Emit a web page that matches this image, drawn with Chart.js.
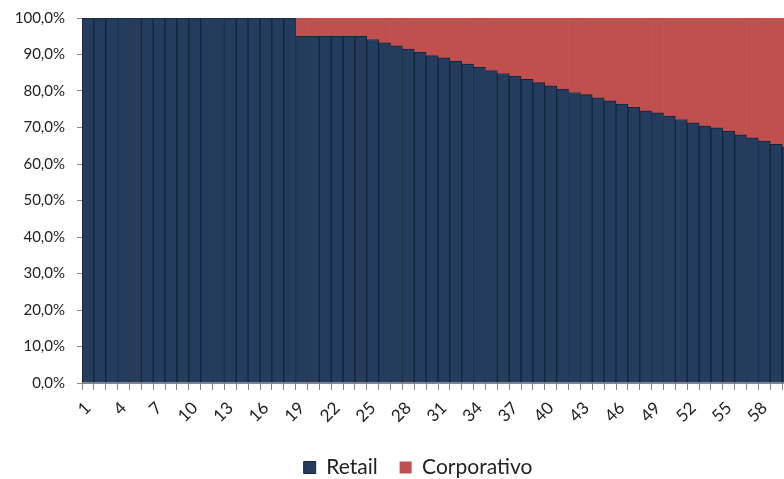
<!DOCTYPE html>
<html lang="pt">
<head>
    <meta charset="UTF-8">
    <title>Retail x Corporativo</title>
    <style>
        html, body { margin: 0; padding: 0; background: #fff; overflow: hidden; }
        #mixChart { display: block; }
    </style>
</head>
<body>
    <canvas id="mixChart" width="800" height="488"></canvas>

    <script src="https://cdn.jsdelivr.net/npm/chart.js"></script>
    <script>
        // Periods 1..60
        const periods = [];
        for (let i = 1; i <= 60; i++) periods.push(String(i));

        // Share of retail (%) per period
        const retail = [
            100, 100, 100, 100, 100, 100, 100, 100, 100, 100,
            100, 100, 100, 100, 100, 100, 100, 100, 95.0, 95.0,
            95.0, 95.0, 95.0, 95.0, 94.1, 93.2, 92.4, 91.5, 90.6, 89.7,
            89.1, 88.2, 87.4, 86.5, 85.6, 84.8, 84.1, 83.2, 82.3, 81.4,
            80.5, 79.6, 79.0, 78.1, 77.3, 76.4, 75.5, 74.6, 74.0, 73.1,
            72.2, 71.3, 70.4, 69.9, 69.0, 68.0, 67.2, 66.3, 65.4, 64.7
        ];

        // Share of corporate (%) per period
        const corporativo = [
            0, 0, 0, 0, 0, 0, 0, 0, 0, 0,
            0, 0, 0, 0, 0, 0, 0, 0, 5.0, 5.0,
            5.0, 5.0, 5.0, 5.0, 5.9, 6.8, 7.6, 8.5, 9.4, 10.3,
            10.9, 11.8, 12.6, 13.5, 14.4, 15.2, 15.9, 16.8, 17.7, 18.6,
            19.5, 20.4, 21.0, 21.9, 22.7, 23.6, 24.5, 25.4, 26.0, 26.9,
            27.8, 28.7, 29.6, 30.1, 31.0, 32.0, 32.8, 33.7, 34.6, 35.3
        ];

        const yTicks = [0, 10, 20, 30, 40, 50, 60, 70, 80, 90, 100];

        const fontFamily = 'Lato, "Open Sans", sans-serif';
        const axisGrey = '#868686';

        // nudge the legend to the right of the plot centre
        const legendShift = {
            id: 'legendShift',
            afterLayout(chart) {
                chart.legend.left += 21;
                chart.legend.right += 21;
            }
        };

        const ctx = document.getElementById('mixChart').getContext('2d');

        const mixChart = new Chart(ctx, {
            type: 'bar',
            data: {
                labels: periods,
                datasets: [{
                    label: 'Retail',
                    data: retail,
                    backgroundColor: '#243d5e',
                    borderColor: '#13243b',
                    borderWidth: 1,
                    borderSkipped: false
                }, {
                    label: 'Corporativo',
                    data: corporativo,
                    backgroundColor: '#c0504d',
                    borderColor: '#c0504d',
                    borderWidth: 0
                }]
            },
            options: {
                responsive: false,
                animation: false,
                datasets: {
                    bar: { categoryPercentage: 1.0, barPercentage: 1.0 }
                },
                layout: {
                    padding: { top: 18, right: 6, left: 0, bottom: 0 }
                },
                scales: {
                    x: {
                        stacked: true,
                        afterFit: function(scale) {
                            scale.height = 52;
                            // rotated labels should not shrink the plot width
                            scale.paddingLeft = 0;
                            scale.paddingRight = 0;
                        },
                        grid: {
                            display: true,
                            drawOnChartArea: false,
                            drawTicks: true,
                            tickLength: 7,
                            color: axisGrey,
                            offset: true
                        },
                        border: { color: axisGrey, width: 1 },
                        ticks: {
                            autoSkip: false,
                            maxRotation: 45,
                            minRotation: 45,
                            color: '#222',
                            padding: 8,
                            font: { family: fontFamily, size: 17 },
                            callback: function(value, index) {
                                return index % 3 === 0 ? this.getLabelForValue(value) : '';
                            }
                        }
                    },
                    y: {
                        stacked: true,
                        min: 0,
                        max: 100,
                        afterBuildTicks: function(scale) {
                            scale.ticks = yTicks.map(v => ({ value: v }));
                        },
                        afterFit: function(scale) {
                            scale.width = 82;
                            // keep the label gap from pushing the plot area in
                            scale.paddingTop = 0;
                            scale.paddingBottom = 0;
                        },
                        grid: {
                            display: true,
                            drawOnChartArea: false,
                            drawTicks: true,
                            tickLength: 5,
                            color: axisGrey
                        },
                        border: { color: axisGrey, width: 1 },
                        ticks: {
                            color: '#222',
                            padding: 12,
                            font: { family: fontFamily, size: 15 },
                            callback: function(value) {
                                return value.toFixed(1).replace('.', ',') + '%';
                            }
                        }
                    }
                },
                plugins: {
                    legend: {
                        position: 'bottom',
                        labels: {
                            boxWidth: 12,
                            boxHeight: 12,
                            padding: 22,
                            color: '#222',
                            font: { family: fontFamily, size: 21 }
                        }
                    },
                    tooltip: {
                        callbacks: {
                            label: function(context) {
                                return context.dataset.label + ': ' +
                                    context.parsed.y.toFixed(1).replace('.', ',') + '%';
                            }
                        }
                    }
                }
            },
            plugins: [legendShift]
        });
    </script>
</body>
</html>
